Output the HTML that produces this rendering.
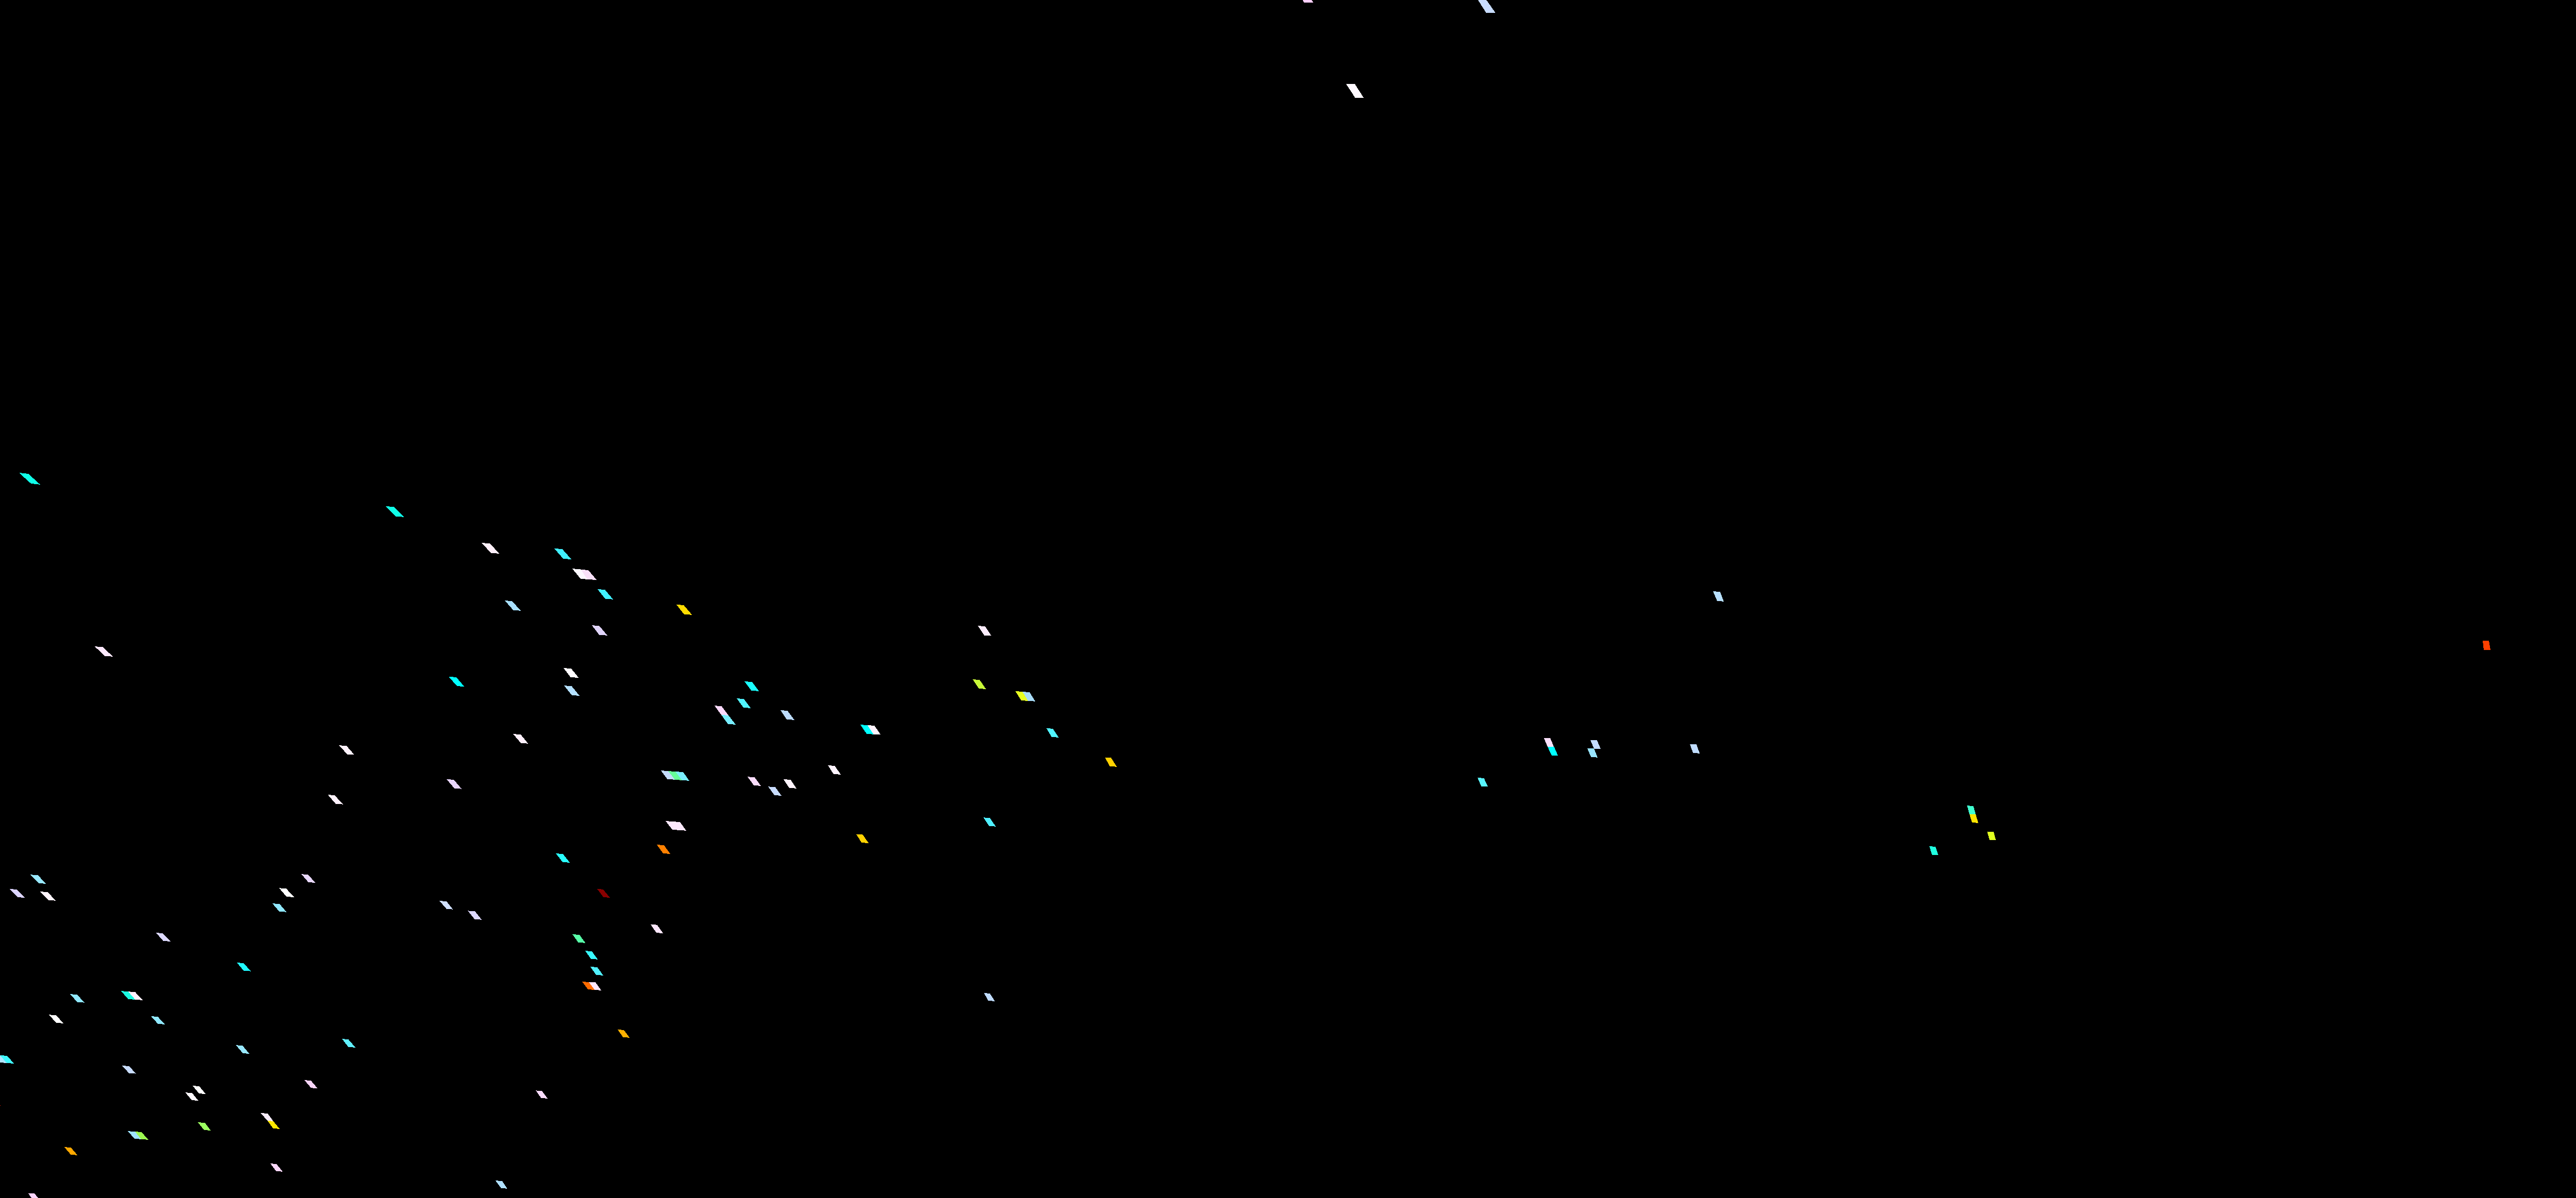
<!DOCTYPE html><html><head><meta charset="utf-8"><style>html,body{margin:0;padding:0;background:#000;width:5340px;height:2326px;overflow:hidden}svg{display:block}</style></head><body>
<svg width="5340" height="2326" viewBox="0 0 5340 2326" shape-rendering="crispEdges"><rect width="5340" height="2326" fill="#000"/>
<polygon fill="#10ffe8" points="37.0,918.0 55.0,920.0 78.0,940.8 60.1,938.9"/>
<polygon fill="#10ffe8" points="748.9,983.0 765.0,984.1 784.0,1003.7 768.2,1003.0"/>
<polygon fill="#fce8fc" points="183.9,1255.2 199.8,1256.1 219.0,1274.8 203.3,1273.5"/>
<polygon fill="#fff0fa" points="935.1,1054.1 950.7,1055.1 969.2,1074.8 953.0,1073.8"/>
<polygon fill="#40f0ff" points="1075.8,1064.9 1091.5,1066.1 1109.1,1086.0 1093.2,1084.8"/>
<polygon fill="#fcf8ff" points="1110.9,1104.1 1127.4,1105.5 1140.1,1124.9 1126.8,1123.6"/>
<polygon fill="#f8e0f8" points="1127.4,1105.8 1141.8,1107.0 1158.1,1126.0 1140.1,1124.9"/>
<polygon fill="#40f0ff" points="1159.8,1143.9 1174.3,1145.1 1189.9,1163.7 1174.9,1162.8"/>
<polygon fill="#a8e0ff" points="980.0,1166.2 993.6,1166.9 1011.0,1185.8 996.3,1184.8"/>
<polygon fill="#ffdc00" points="1313.0,1174.0 1327.0,1174.9 1343.2,1193.8 1327.7,1192.7"/>
<polygon fill="#e0d4fa" points="1148.9,1214.1 1163.2,1215.2 1179.0,1233.8 1163.2,1232.7"/>
<polygon fill="#fcecfc" points="1898.0,1215.1 1912.1,1216.1 1923.9,1233.8 1910.3,1233.6"/>
<polygon fill="#fff2fc" points="658.2,1447.2 672.6,1448.1 687.9,1465.5 674.0,1464.6"/>
<polygon fill="#fff2fc" points="636.4,1543.1 649.5,1544.1 665.9,1561.7 651.4,1560.5"/>
<polygon fill="#00ffff" points="871.0,1313.9 885.8,1314.9 901.0,1333.0 887.1,1332.1"/>
<polygon fill="#fffcff" points="1093.9,1297.1 1108.7,1298.1 1123.2,1315.9 1107.7,1315.1"/>
<polygon fill="#b4e0ff" points="1095.0,1331.2 1109.4,1332.1 1124.9,1350.8 1110.0,1350.1"/>
<polygon fill="#fff0fc" points="995.9,1425.1 1010.6,1426.0 1025.1,1443.7 1011.2,1442.8"/>
<polygon fill="#e8d4fc" points="866.9,1512.9 880.8,1514.0 895.9,1531.6 882.0,1530.8"/>
<polygon fill="#28ffff" points="1078.9,1657.0 1092.8,1658.1 1105.9,1674.8 1092.1,1673.9"/>
<polygon fill="#1affff" points="1445.0,1323.1 1459.7,1324.0 1473.0,1341.8 1458.3,1340.9"/>
<polygon fill="#50f4ff" points="1430.0,1356.1 1443.9,1357.0 1457.0,1374.8 1443.2,1373.9"/>
<polygon fill="#f9d8fb" points="1386.9,1370.2 1400.7,1371.1 1413.9,1388.8 1400.1,1388.1"/>
<polygon fill="#78eeff" points="1400.1,1388.1 1413.9,1388.8 1427.9,1406.8 1413.0,1405.9"/>
<polygon fill="#bcdcff" points="1514.9,1378.9 1528.5,1380.1 1541.9,1397.8 1526.9,1396.9"/>
<polygon fill="#c4dcff" points="1282.9,1496.0 1297.1,1497.1 1310.0,1513.8 1295.2,1512.7"/>
<polygon fill="#66ff99" points="1297.1,1497.1 1311.0,1498.0 1323.8,1514.9 1310.0,1513.8"/>
<polygon fill="#7aeeff" points="1311.0,1498.0 1326.0,1499.1 1337.8,1515.8 1323.8,1514.9"/>
<polygon fill="#fadcfc" points="1450.9,1508.2 1464.7,1509.2 1477.0,1525.9 1463.1,1524.7"/>
<polygon fill="#fff4fc" points="1520.8,1513.0 1534.6,1514.0 1546.0,1530.8 1532.0,1529.8"/>
<polygon fill="#c8dcff" points="1491.0,1527.3 1504.8,1528.2 1516.9,1545.0 1503.1,1543.9"/>
<polygon fill="#fce8fc" points="1292.0,1594.1 1319.9,1596.1 1332.0,1612.8 1304.9,1610.8"/>
<polygon fill="#ff8000" points="1275.0,1640.0 1288.9,1641.1 1301.0,1657.9 1287.1,1657.0"/>
<polygon fill="#c8f838" points="1888.0,1319.0 1901.5,1320.1 1913.9,1338.0 1899.9,1336.9"/>
<polygon fill="#e8ff20" points="1971.0,1342.1 1984.5,1342.9 1995.4,1360.8 1982.2,1360.0"/>
<polygon fill="#a8dcf8" points="1984.5,1342.9 1998.5,1344.2 2009.4,1361.7 1995.4,1360.8"/>
<polygon fill="#00ffff" points="1669.8,1407.0 1683.6,1408.1 1695.4,1425.7 1682.2,1424.9"/>
<polygon fill="#fff4ff" points="1683.6,1408.1 1697.3,1408.9 1708.9,1425.7 1695.4,1425.7"/>
<polygon fill="#50f4ff" points="2031.1,1414.0 2043.5,1414.8 2054.9,1431.9 2041.2,1430.8"/>
<polygon fill="#fff4ff" points="1606.8,1485.9 1620.3,1487.0 1632.0,1503.9 1618.0,1502.8"/>
<polygon fill="#ffd000" points="2144.9,1470.8 2156.6,1471.3 2167.8,1488.8 2153.9,1487.7"/>
<polygon fill="#50f0ff" points="1908.9,1587.2 1921.5,1588.3 1932.8,1604.8 1919.7,1603.6"/>
<polygon fill="#ffd200" points="1661.9,1619.9 1674.3,1620.3 1686.0,1637.0 1672.5,1636.1"/>
<polygon fill="#98e8ff" points="59.0,1698.2 73.9,1699.5 89.1,1715.9 75.2,1714.8"/>
<polygon fill="#dcd4ff" points="18.9,1725.9 32.3,1727.0 48.2,1742.9 34.3,1742.1"/>
<polygon fill="#fff4fc" points="77.9,1731.0 92.8,1732.2 108.0,1748.7 93.7,1747.7"/>
<polygon fill="#e8d8fc" points="585.0,1697.1 598.3,1698.3 611.9,1713.9 598.5,1713.0"/>
<polygon fill="#ffffff" points="541.9,1724.3 555.6,1725.3 571.0,1742.0 556.1,1741.0"/>
<polygon fill="#90e8ff" points="528.8,1754.1 542.7,1755.1 556.1,1770.7 542.1,1769.9"/>
<polygon fill="#dcd8ff" points="302.9,1811.0 316.1,1812.1 331.0,1827.9 316.8,1826.9"/>
<polygon fill="#20f8ff" points="459.9,1869.0 472.9,1870.1 486.8,1885.6 472.9,1884.8"/>
<polygon fill="#90e8ff" points="135.9,1930.1 149.8,1931.2 164.0,1946.7 150.1,1945.6"/>
<polygon fill="#1af8e0" points="234.9,1924.1 248.8,1925.2 262.6,1940.9 248.8,1939.9"/>
<polygon fill="#fff0ff" points="248.8,1925.2 262.3,1926.2 277.0,1941.8 262.6,1940.9"/>
<polygon fill="#ffffff" points="95.0,1970.1 109.3,1971.4 122.9,1986.8 109.0,1985.9"/>
<polygon fill="#90e8ff" points="293.1,1973.0 306.3,1974.1 320.0,1988.8 306.6,1988.0"/>
<polygon fill="#98e8ff" points="458.0,2029.2 470.7,2030.1 484.0,2046.0 471.3,2044.9"/>
<polygon fill="#60f0ff" points="663.8,2017.0 676.3,2018.2 690.0,2033.8 676.3,2033.0"/>
<polygon fill="#40f8ff" points="0.0,2048.9 13.9,2050.0 27.2,2065.0 13.0,2063.9"/>
<polygon fill="#b0e4ff" points="-14.0,2048.0 0.0,2048.9 13.0,2063.9 -1.0,2062.9"/>
<polygon fill="#c8dcff" points="236.9,2069.0 250.6,2070.0 264.0,2084.6 250.4,2083.7"/>
<polygon fill="#d0e0ff" points="853.0,1749.1 866.6,1750.0 879.1,1765.7 866.6,1764.7"/>
<polygon fill="#ddd8ff" points="908.1,1768.4 921.8,1769.3 935.0,1785.7 921.1,1784.7"/>
<polygon fill="#880000" points="1159.1,1726.0 1170.5,1726.7 1184.1,1743.1 1171.2,1741.9"/>
<polygon fill="#58ffa8" points="1111.0,1814.0 1124.7,1815.0 1136.2,1830.8 1122.5,1829.9"/>
<polygon fill="#fce6fc" points="1262.8,1795.0 1275.3,1795.6 1287.1,1812.1 1274.0,1811.0"/>
<polygon fill="#38f8ff" points="1135.8,1846.1 1148.9,1847.1 1160.1,1862.7 1147.2,1862.0"/>
<polygon fill="#50f0ff" points="1145.9,1877.0 1159.3,1878.0 1170.9,1893.8 1157.1,1892.9"/>
<polygon fill="#ff6a00" points="1129.9,1906.0 1143.0,1906.9 1154.0,1921.9 1141.2,1921.0"/>
<polygon fill="#fce6fc" points="1143.0,1906.9 1155.8,1907.3 1167.0,1922.9 1154.0,1921.9"/>
<polygon fill="#ffb000" points="1199.0,1999.1 1210.7,1999.8 1222.1,2014.7 1209.4,2014.1"/>
<polygon fill="#c0dcff" points="1909.9,1927.9 1921.5,1929.0 1931.0,1943.9 1918.2,1942.9"/>
<polygon fill="#ffffff" points="374.0,2108.1 386.8,2109.0 399.0,2124.0 386.3,2123.1"/>
<polygon fill="#fffaff" points="359.9,2121.2 372.8,2122.1 384.9,2136.9 372.3,2136.2"/>
<polygon fill="#f8d4f8" points="590.9,2097.1 603.6,2098.2 616.1,2112.9 603.9,2112.4"/>
<polygon fill="#f8ecfc" points="505.9,2161.0 519.7,2162.0 530.4,2176.9 519.2,2175.9"/>
<polygon fill="#ffe800" points="519.2,2175.9 530.4,2176.9 542.9,2191.9 530.0,2190.9"/>
<polygon fill="#9cff60" points="384.0,2178.9 397.8,2180.2 409.1,2194.9 396.1,2194.0"/>
<polygon fill="#a0e4ff" points="248.0,2196.1 262.4,2197.2 273.7,2211.8 261.2,2210.9"/>
<polygon fill="#9cf850" points="262.4,2197.2 274.4,2197.9 288.2,2212.9 273.7,2211.8"/>
<polygon fill="#ffa800" points="124.8,2227.1 137.8,2228.1 150.2,2242.8 137.4,2241.8"/>
<polygon fill="#fcd8fc" points="524.8,2258.9 536.7,2260.2 548.7,2274.8 535.7,2273.7"/>
<polygon fill="#fcd4fc" points="54.8,2316.9 66.4,2316.9 79.5,2332.0 65.5,2332.0"/>
<polygon fill="#fadcfc" points="1040.0,2117.3 1052.0,2118.3 1063.0,2132.8 1050.3,2132.0"/>
<polygon fill="#b0e0ff" points="961.7,2292.2 974.8,2293.0 984.6,2307.8 972.6,2306.7"/>
<polygon fill="#b8e0ff" points="3325.0,1148.1 3338.8,1149.0 3345.8,1167.8 3333.0,1166.7"/>
<polygon fill="#fce0fc" points="2996.8,1433.2 3009.1,1433.2 3016.1,1450.0 3003.9,1450.0"/>
<polygon fill="#00ffff" points="3003.9,1450.0 3016.4,1450.0 3024.0,1466.8 3011.8,1466.8"/>
<polygon fill="#98e4ff" points="3081.1,1453.2 3093.9,1453.5 3100.9,1470.7 3088.2,1469.8"/>
<polygon fill="#c4dcff" points="3087.0,1437.2 3099.8,1437.2 3106.9,1453.8 3094.1,1453.8"/>
<polygon fill="#c0dcff" points="3280.0,1445.0 3292.9,1445.0 3299.0,1462.8 3286.2,1461.8"/>
<polygon fill="#58f4ff" points="2868.0,1510.0 2880.3,1510.9 2887.9,1526.8 2875.1,1526.8"/>
<polygon fill="#40ffd0" points="3818.0,1564.1 3830.3,1565.2 3834.8,1580.8 3822.7,1580.8"/>
<polygon fill="#ffe400" points="3822.7,1580.8 3834.8,1580.8 3839.8,1597.8 3827.7,1597.0"/>
<polygon fill="#e0ff20" points="3857.2,1615.1 3869.7,1615.1 3873.9,1630.8 3861.7,1630.8"/>
<polygon fill="#20ffe0" points="3745.0,1643.0 3757.0,1644.0 3762.0,1660.0 3750.0,1660.0"/>
<polygon fill="#ff4000" points="4819.0,1244.0 4831.0,1244.0 4834.0,1262.0 4821.0,1262.0"/>
<polygon fill="#60f0ff" points="5295.0,2285.0 5306.0,2285.0 5307.0,2299.0 5296.0,2299.0"/>
<polygon fill="#ffd0ff" points="2521.5,-15.0 2537.5,-15.0 2549.0,4.8 2531.0,4.8"/>
<polygon fill="#fffaff" points="2612.8,163.1 2629.7,163.1 2646.7,189.5 2630.1,189.5"/>
<polygon fill="#c8dcff" points="2867.0,-3.0 2883.0,-3.0 2902.9,25.1 2884.7,25.1"/>
<rect x="0" y="2146" width="1" height="1" fill="#ff2000"/>
</svg></body></html>
